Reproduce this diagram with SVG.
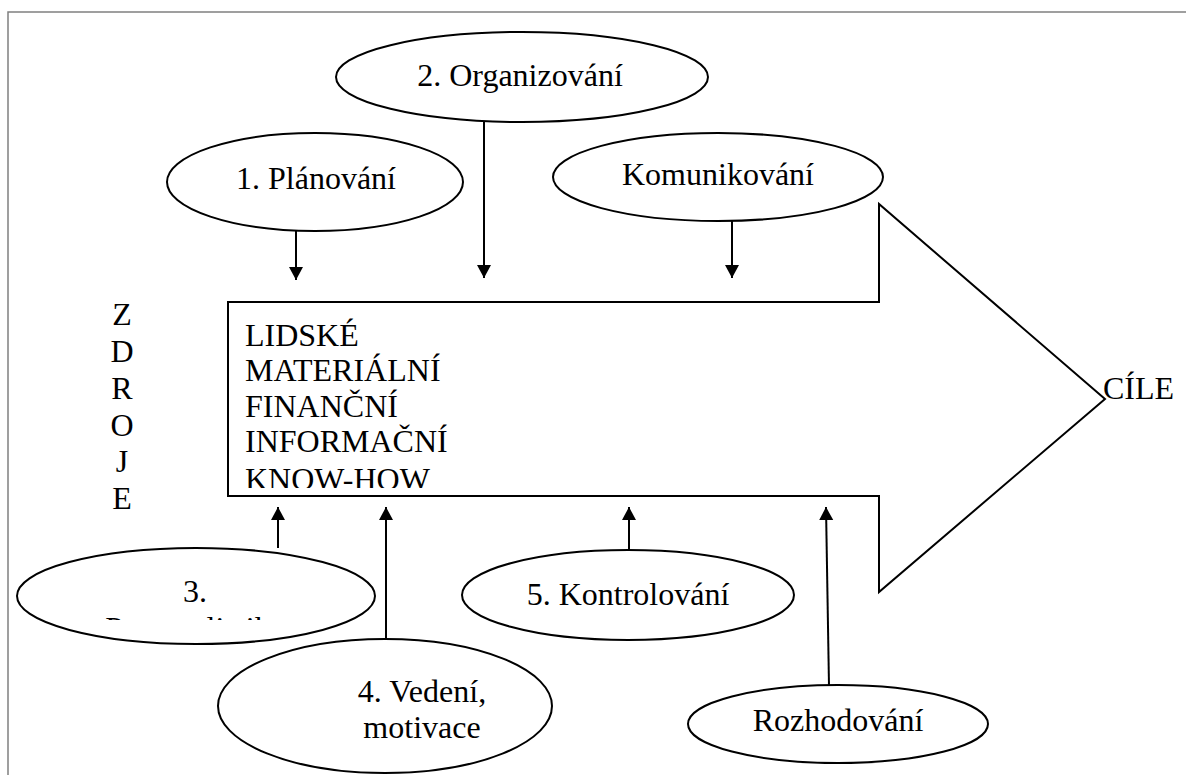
<svg xmlns="http://www.w3.org/2000/svg" width="1186" height="775" viewBox="0 0 1186 775">
  <style>
    .frame { fill: none; stroke: #808080; stroke-width: 1.5; }
    .shape { fill: #ffffff; stroke: #000000; stroke-width: 2; }
    .link { fill: none; stroke: #000000; stroke-width: 2; }
    text { font-family: 'Liberation Serif', 'DejaVu Serif', serif; font-size: 32px; fill: #000000; }
    .mid { text-anchor: middle; }
  </style>
  <defs>
    <marker id="head" markerUnits="userSpaceOnUse" markerWidth="16" markerHeight="16" viewBox="0 0 16 16" refX="14" refY="8" orient="auto">
      <path d="M1,1 L14,8 L1,15 Z" fill="#000000"/>
    </marker>
    <clipPath id="boxText"><rect x="230" y="304" width="640" height="184"/></clipPath>
    <clipPath id="hrText"><rect x="20" y="560" width="350" height="60"/></clipPath>
  </defs>

  <rect width="1186" height="775" fill="#ffffff"/>
  <!-- page frame -->
  <path class="frame" d="M8,775 L8,12 L1186,12"/>

  <!-- resources flowing into goals -->
  <g id="resources">
    <path class="shape" d="M228,302 L879,302 L879,204 L1105,399 L879,592 L879,496 L228,496 Z"/>
    <g clip-path="url(#boxText)">
      <text x="245" y="346">LIDSKÉ</text>
      <text x="245" y="381">MATERIÁLNÍ</text>
      <text x="245" y="417">FINANČNÍ</text>
      <text x="245" y="452">INFORMAČNÍ</text>
      <text x="245" y="490">KNOW-HOW</text>
    </g>
  </g>
  <g id="goals">
    <text x="1103" y="399">CÍLE</text>
  </g>
  <g id="zdroje">
    <text class="mid" x="122" y="325">Z</text>
    <text class="mid" x="122" y="362">D</text>
    <text class="mid" x="122" y="399">R</text>
    <text class="mid" x="122" y="436">O</text>
    <text class="mid" x="122" y="472">J</text>
    <text class="mid" x="122" y="509">E</text>
  </g>

  <!-- management functions -->
  <g id="organizovani">
    <ellipse class="shape" cx="522" cy="77" rx="186" ry="45"/>
    <text class="mid" x="520" y="86">2. Organizování</text>
  </g>
  <g id="planovani">
    <ellipse class="shape" cx="315" cy="182" rx="148" ry="49"/>
    <text class="mid" x="316" y="189">1. Plánování</text>
  </g>
  <g id="komunikovani">
    <ellipse class="shape" cx="718" cy="177" rx="165" ry="44"/>
    <text class="mid" x="718" y="185">Komunikování</text>
  </g>
  <g id="personalistika">
    <ellipse class="shape" cx="196" cy="596" rx="179" ry="48"/>
    <text class="mid" x="195" y="602">3.</text>
    <text class="mid" x="195" y="639" clip-path="url(#hrText)">Personalistika</text>
  </g>
  <g id="vedeni">
    <ellipse class="shape" cx="385" cy="706" rx="167" ry="67"/>
    <text class="mid" x="422" y="702">4. Vedení,</text>
    <text class="mid" x="422" y="738">motivace</text>
  </g>
  <g id="kontrolovani">
    <ellipse class="shape" cx="628" cy="595" rx="166" ry="45"/>
    <text class="mid" x="628" y="605">5. Kontrolování</text>
  </g>
  <g id="rozhodovani">
    <ellipse class="shape" cx="838" cy="724" rx="150" ry="39"/>
    <text class="mid" x="838" y="731">Rozhodování</text>
  </g>

  <!-- connectors -->
  <g id="connectors">
    <line class="link" x1="484" y1="122" x2="484" y2="278" marker-end="url(#head)"/>
    <line class="link" x1="296" y1="231" x2="296" y2="280" marker-end="url(#head)"/>
    <line class="link" x1="732" y1="221" x2="732" y2="278" marker-end="url(#head)"/>
    <line class="link" x1="278" y1="548" x2="278" y2="507" marker-end="url(#head)"/>
    <line class="link" x1="386" y1="639" x2="386" y2="507" marker-end="url(#head)"/>
    <line class="link" x1="629" y1="550" x2="629" y2="507" marker-end="url(#head)"/>
    <line class="link" x1="829" y1="686" x2="826" y2="507" marker-end="url(#head)"/>
  </g>
</svg>
